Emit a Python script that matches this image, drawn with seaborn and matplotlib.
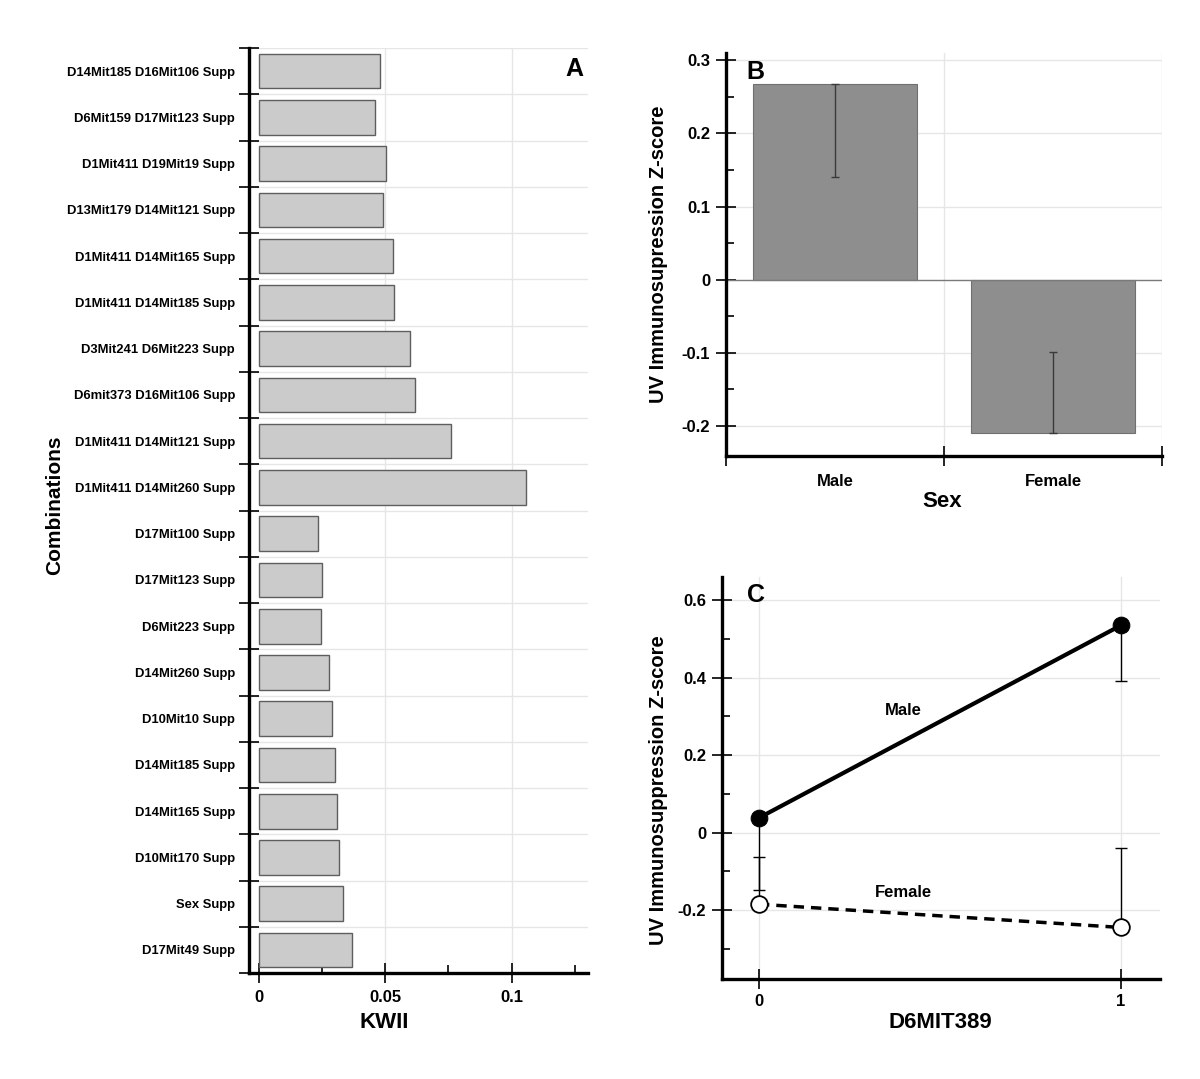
import matplotlib
matplotlib.use('Agg')
from matplotlib import pyplot as plt
from matplotlib.ticker import FixedLocator
import numpy as np
import pandas as pd
import seaborn as sns

# panel A: KWII of top combinations
COMBINATIONS = [
    'D14Mit185 D16Mit106 Supp', 'D6Mit159 D17Mit123 Supp', 'D1Mit411 D19Mit19 Supp',
    'D13Mit179 D14Mit121 Supp', 'D1Mit411 D14Mit165 Supp', 'D1Mit411 D14Mit185 Supp',
    'D3Mit241 D6Mit223 Supp', 'D6mit373 D16Mit106 Supp', 'D1Mit411 D14Mit121 Supp',
    'D1Mit411 D14Mit260 Supp', 'D17Mit100 Supp', 'D17Mit123 Supp', 'D6Mit223 Supp',
    'D14Mit260 Supp', 'D10Mit10 Supp', 'D14Mit185 Supp', 'D14Mit165 Supp',
    'D10Mit170 Supp', 'Sex Supp', 'D17Mit49 Supp',
]
KWII = [0.0480, 0.0459, 0.0503, 0.0492, 0.0531, 0.0535, 0.0598, 0.0617, 0.0762,
        0.1059, 0.0234, 0.0248, 0.0246, 0.0275, 0.0287, 0.0299, 0.0307, 0.0317,
        0.0334, 0.0369]

# panel B: z-score by sex
SEX = ['Male', 'Female']
SEX_Z = [0.267, -0.210]
SEX_ERR_END = [0.140, -0.099]

# panel C: interaction with D6MIT389
D6MIT389 = [0, 1]
MALE_Z = [0.038, 0.535]
MALE_ERR_END = [-0.148, 0.392]
FEMALE_Z = [-0.185, -0.245]
FEMALE_ERR_END = [-0.062, -0.039]

GRID = '#e6e6e6'
SPINE_W = 2.4


def style_axes(ax):
    for s in ['top', 'right']:
        ax.spines[s].set_visible(False)
    for s in ['left', 'bottom']:
        ax.spines[s].set_linewidth(SPINE_W)
        ax.spines[s].set_color('black')
    ax.tick_params(which='both', bottom=True, left=True, color='black', width=1.2)


def bold_ticks(ax):
    for lbl in ax.get_yticklabels() + ax.get_xticklabels():
        lbl.set_fontweight('bold')


def set_labels(ax, xlabel, ylabel, xpos, ypos, xsize=16, ysize=14.5):
    ax.set_xlabel(xlabel, fontsize=xsize, fontweight='bold')
    ax.set_ylabel(ylabel, fontsize=ysize, fontweight='bold')
    ax.xaxis.label.set_verticalalignment('center')
    ax.xaxis.set_label_coords(*xpos)
    ax.yaxis.set_label_coords(*ypos)


def panel_a(ax):
    df = pd.DataFrame({'Combination': COMBINATIONS, 'KWII': KWII})
    sns.barplot(data=df, x='KWII', y='Combination', orient='h', color='#cbcbcb',
                edgecolor='#5e5e5e', linewidth=1.0, width=0.75, saturation=1, ax=ax)
    style_axes(ax)
    ax.set_xlim(-0.004, 0.1303)
    ax.set_ylim(19.5, -0.5)
    ax.xaxis.set_major_locator(FixedLocator([0, 0.05, 0.1]))
    ax.xaxis.set_minor_locator(FixedLocator([0.025, 0.075, 0.125]))
    ax.set_xticklabels(['0', '0.05', '0.1'])
    ax.yaxis.set_minor_locator(FixedLocator(np.arange(-0.5, 20, 1)))
    ax.tick_params(axis='y', which='major', length=0, pad=10, labelsize=9.4)
    ax.tick_params(axis='y', which='minor', direction='inout', length=15)
    ax.tick_params(axis='x', which='major', direction='inout', length=14, labelsize=12, pad=5)
    ax.tick_params(axis='x', which='minor', direction='in', length=6)
    bold_ticks(ax)
    ax.grid(False)
    for v in [0.05, 0.1]:
        ax.axvline(v, color=GRID, lw=1, zorder=0)
    for b in np.arange(-0.5, 20, 1):
        ax.axhline(b, color=GRID, lw=1, zorder=0)
    set_labels(ax, 'KWII', 'Combinations', (0.40, -0.054), (-0.545, 0.506), 16, 15)
    ax.text(0.96, 0.977, 'A', transform=ax.transAxes, ha='center', va='center',
            fontsize=18, fontweight='bold')


def panel_b(ax):
    df = pd.DataFrame({'Sex': SEX, 'Z': SEX_Z})
    sns.barplot(data=df, x='Sex', y='Z', color='#8e8e8e', edgecolor='#707070',
                linewidth=0.8, width=0.75, saturation=1, ax=ax, zorder=2)
    lo = [max(z - e, 0) for z, e in zip(SEX_Z, SEX_ERR_END)]
    hi = [max(e - z, 0) for z, e in zip(SEX_Z, SEX_ERR_END)]
    ax.errorbar(range(len(SEX)), SEX_Z, yerr=[lo, hi], fmt='none', ecolor='#3a3a3a',
                elinewidth=1.0, capsize=3, capthick=1.0, zorder=3)
    style_axes(ax)
    ax.set_xlim(-0.5, 1.5)
    ax.set_ylim(-0.241, 0.31)
    ax.set_yticks([-0.2, -0.1, 0, 0.1, 0.2, 0.3])
    ax.set_yticklabels(['-0.2', '-0.1', '0', '0.1', '0.2', '0.3'])
    ax.yaxis.set_minor_locator(FixedLocator([-0.15, -0.05, 0.05, 0.15, 0.25]))
    ax.xaxis.set_minor_locator(FixedLocator([-0.5, 0.5, 1.5]))
    ax.tick_params(axis='x', which='major', length=0, labelsize=12, pad=13)
    ax.tick_params(axis='x', which='minor', direction='inout', length=15)
    ax.tick_params(axis='y', which='major', direction='inout', length=15, labelsize=12, pad=4)
    ax.tick_params(axis='y', which='minor', direction='in', length=6)
    bold_ticks(ax)
    ax.grid(False)
    for v in [-0.2, -0.1, 0.1, 0.2, 0.3]:
        ax.axhline(v, color=GRID, lw=1, zorder=0)
    for v in [0.5, 1.5]:
        ax.axvline(v, color=GRID, lw=1, zorder=0)
    ax.axhline(0, color='#7a7a7a', lw=1.0, zorder=2.5)
    set_labels(ax, 'Sex', 'UV Immunosupression Z-score', (0.495, -0.114), (-0.133, 0.50))
    ax.text(0.067, 0.953, 'B', transform=ax.transAxes, ha='center', va='center',
            fontsize=18, fontweight='bold')


def panel_c(ax):
    for z, e in [(MALE_Z, MALE_ERR_END), (FEMALE_Z, FEMALE_ERR_END)]:
        lo = [max(a - b, 0) for a, b in zip(z, e)]
        hi = [max(b - a, 0) for a, b in zip(z, e)]
        ax.errorbar(D6MIT389, z, yerr=[lo, hi], fmt='none', ecolor='black',
                    elinewidth=1.0, capsize=4, capthick=1.0, zorder=2)
    male = pd.DataFrame({'D6MIT389': D6MIT389, 'Z': MALE_Z})
    female = pd.DataFrame({'D6MIT389': D6MIT389, 'Z': FEMALE_Z})
    sns.lineplot(data=male, x='D6MIT389', y='Z', color='black', lw=3, marker='o',
                 markersize=12, markerfacecolor='black', markeredgecolor='black', ax=ax, zorder=3)
    sns.lineplot(data=female, x='D6MIT389', y='Z', color='black', lw=2.5, linestyle=(0, (3, 2)),
                 marker='o', markersize=12, markerfacecolor='white', markeredgecolor='black',
                 markeredgewidth=1.3, ax=ax, zorder=3)
    style_axes(ax)
    ax.set_xlim(-0.102, 1.108)
    ax.set_ylim(-0.378, 0.66)
    ax.set_xticks(D6MIT389)
    ax.set_xticklabels(['0', '1'])
    ax.set_yticks([-0.2, 0, 0.2, 0.4, 0.6])
    ax.set_yticklabels(['-0.2', '0', '0.2', '0.4', '0.6'])
    ax.yaxis.set_minor_locator(FixedLocator([-0.3, -0.1, 0.1, 0.3, 0.5]))
    ax.tick_params(axis='x', which='major', direction='inout', length=15, labelsize=12, pad=3)
    ax.tick_params(axis='y', which='major', direction='inout', length=15, labelsize=12, pad=4)
    ax.tick_params(axis='y', which='minor', direction='in', length=6)
    bold_ticks(ax)
    ax.grid(False)
    for v in [-0.2, 0, 0.2, 0.4, 0.6]:
        ax.axhline(v, color=GRID, lw=1, zorder=0)
    for v in D6MIT389:
        ax.axvline(v, color=GRID, lw=1, zorder=0)
    ax.text(0.40, 0.316, 'Male', ha='center', va='center', fontsize=12, fontweight='bold')
    ax.text(0.40, -0.155, 'Female', ha='center', va='center', fontsize=12, fontweight='bold')
    set_labels(ax, 'D6MIT389', 'UV Immunosuppression Z-score', (0.498, -0.109), (-0.123, 0.47))
    ax.text(0.078, 0.955, 'C', transform=ax.transAxes, ha='center', va='center',
            fontsize=18, fontweight='bold')


def main():
    sns.set_theme(style='white')
    plt.rcParams['font.family'] = ['Liberation Sans', 'DejaVu Sans']
    plt.rcParams.update({'text.color': 'black', 'axes.labelcolor': 'black',
                         'xtick.color': 'black', 'ytick.color': 'black'})
    fig = plt.figure(figsize=(12, 10.79), dpi=100)
    ax_a = fig.add_axes([0.2075, 0.0982, 0.2825, 0.8573])
    ax_b = fig.add_axes([0.605, 0.5774, 0.3633, 0.3735])
    ax_c = fig.add_axes([0.6017, 0.0927, 0.365, 0.3726])
    panel_a(ax_a)
    panel_b(ax_b)
    panel_c(ax_c)
    fig.savefig('out.png', dpi=100, facecolor='white')


main()
